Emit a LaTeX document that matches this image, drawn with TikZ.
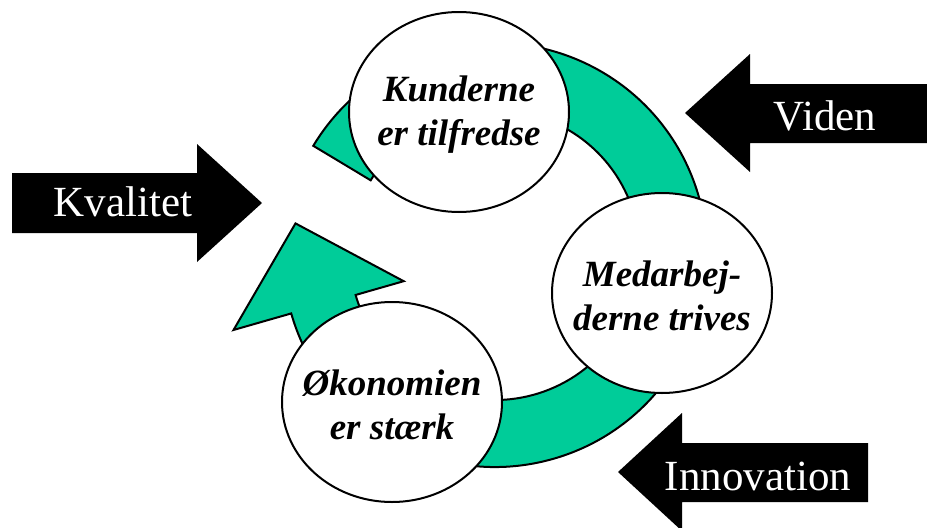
\documentclass[tikz,border=0pt]{standalone}
\usepackage{fontspec}
\setmainfont{Liberation Serif}
\usetikzlibrary{calc}
\definecolor{ringgreen}{RGB}{0,204,153}
\tikzset{
  bubble/.style={draw=black, line width=1pt, fill=white},
  bubbletext/.style={align=center, inner sep=0pt, font=\fontsize{18.5}{22}\selectfont\bfseries\itshape},
  blockarrow/.style={fill=black},
  arrowtext/.style={anchor=base, inner sep=0pt, text=white, font=\fontsize{21.5}{26}\selectfont},
}

\begin{document}
\begin{tikzpicture}[x=0.5pt,y=0.5pt]
\useasboundingbox (0,0) rectangle (927,527);
\coordinate (c0) at (495,272);
\coordinate (k) at (459,415);
\coordinate (m) at (662,234);
\coordinate (o) at (392,125);

% the green ring, head on the left
\filldraw[fill=ringgreen, line width=1pt, line join=miter]
  ($(c0)+(196:212)$) arc[start angle=196, end angle=509, radius=212]
  -- ($(c0)+(509:145)$) arc[start angle=509, end angle=196, radius=145]
  -- ($(c0)+(196:95)$) -- ($(c0)+(171:202)$) -- ($(c0)+(196:272)$) -- cycle;

\foreach \p in {k,m,o} \draw[bubble] (\p) ellipse [x radius=110, y radius=100];
\node[bubbletext] (kunder) at ($(k)+(0,-3)$) {Kunderne\\er tilfredse};
\node[bubbletext] (medarb) at ($(m)+(0,-3)$) {Medarbej-\\derne trives};
\node[bubbletext] (oekon)  at ($(o)+(0,-3)$) {Økonomien\\er stærk};

% black block arrows
\fill[blockarrow] (12,294) -- (197,294) -- (197,265) -- (262,324) -- (197,383) -- (197,354) -- (12,354) -- cycle;
\fill[blockarrow] (685,414) -- (750,473) -- (750,443) -- (927,443) -- (927,384) -- (750,384) -- (750,355) -- cycle;
\fill[blockarrow] (618,55) -- (682,114) -- (682,84) -- (868,84) -- (868,25) -- (682,25) -- (682,-4) -- cycle;
\node[arrowtext] (kval)  at (123,311) {Kvalitet};
\node[arrowtext] (viden) at (825,397) {Viden};
\node[arrowtext] (innov) at (758,37)  {Innovation};
\end{tikzpicture}
\end{document}
